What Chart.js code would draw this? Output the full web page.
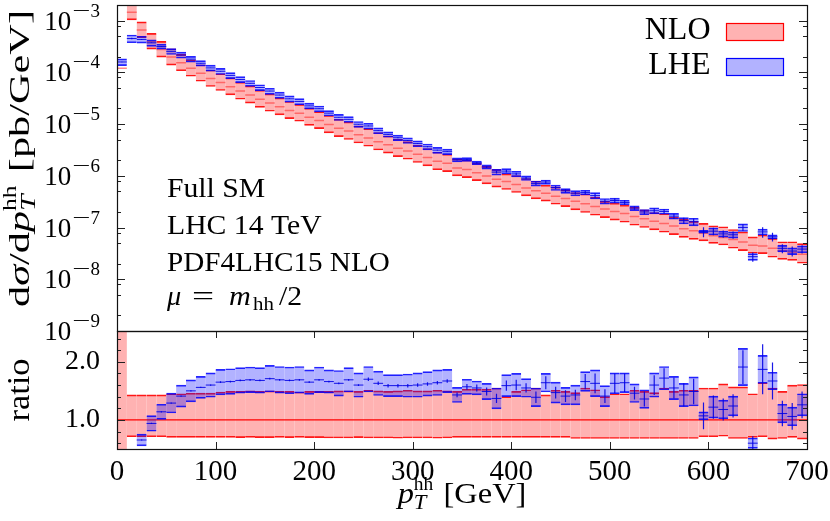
<!DOCTYPE html>
<html><head><meta charset="utf-8">
<script src="https://cdn.jsdelivr.net/npm/chart.js@4"></script>
<style>
html,body{margin:0;padding:0;background:#fff;}
#wrap{position:relative;width:830px;height:521px;background:#fff;}
canvas{position:absolute;left:0;top:0;}
.fl{position:absolute;left:-9999px;top:0;font-family:"Liberation Serif";}
</style></head><body>
<span class="fl">Full SM <i>italic μ</i></span>
<div id="wrap"><canvas id="top" width="830" height="521"></canvas><canvas id="ratio" width="830" height="521"></canvas></div>
<script>
// ---- data ----
const binWidth = 10; // GeV
const binLow = [0,10,20,30,40,50,60,70,80,90,
  100,110,120,130,140,150,160,170,180,190,
  200,210,220,230,240,250,260,270,280,290,
  300,310,320,330,340,350,360,370,380,390,
  400,410,420,430,440,450,460,470,480,490,
  500,510,520,530,540,550,560,570,580,590,
  600,610,620,630,640,650,660,670,680,690];
// NLO central value, pb/GeV
const nloCentral = [1.20e-4,1.45e-3,6.6e-4,3.95e-4,2.77e-4,1.97e-4,1.53e-4,1.20e-4,9.6e-5,7.6e-5,
  6.35e-5,5.25e-5,4.33e-5,3.63e-5,3.03e-5,2.54e-5,2.15e-5,1.83e-5,1.62e-5,1.36e-5,
  1.17e-5,9.8e-6,8.3e-6,7.3e-6,6.2e-6,5.4e-6,4.57e-6,3.97e-6,3.42e-6,3.03e-6,
  2.62e-6,2.25e-6,1.91e-6,1.75e-6,1.42e-6,1.32e-6,1.15e-6,9.95e-7,8.6e-7,7.75e-7,
  6.8e-7,5.83e-7,5.12e-7,4.61e-7,4.03e-7,3.63e-7,3.23e-7,2.87e-7,2.54e-7,2.29e-7,
  2.04e-7,1.86e-7,1.63e-7,1.47e-7,1.32e-7,1.19e-7,1.07e-7,9.5e-8,8.7e-8,7.75e-8,
  6.97e-8,6.38e-8,5.84e-8,5.26e-8,4.55e-8,4.4e-8,3.98e-8,3.57e-8,3.32e-8,3.04e-8];
// NLO band edges relative to NLO central
const nloUp = [3.0,1.43,1.43,1.43,1.43,1.45,1.45,1.46,1.46,1.46,
  1.48,1.49,1.49,1.50,1.49,1.50,1.49,1.49,1.48,1.49,
  1.49,1.49,1.50,1.50,1.49,1.51,1.50,1.49,1.50,1.51,
  1.50,1.50,1.51,1.50,1.49,1.53,1.53,1.53,1.55,1.40,
  1.49,1.52,1.55,1.43,1.51,1.49,1.47,1.55,1.52,1.40,
  1.45,1.45,1.51,1.49,1.47,1.55,1.49,1.51,1.51,1.55,
  1.55,1.62,1.57,1.57,1.45,1.64,1.55,1.49,1.60,1.61];
const nloDown = [0,0.71,0.71,0.71,0.71,0.70,0.70,0.70,0.70,0.70,
  0.70,0.70,0.695,0.70,0.695,0.695,0.70,0.695,0.70,0.695,
  0.695,0.69,0.69,0.69,0.695,0.69,0.69,0.69,0.685,0.69,
  0.69,0.69,0.685,0.69,0.70,0.70,0.70,0.70,0.70,0.70,
  0.70,0.70,0.70,0.70,0.70,0.70,0.68,0.68,0.68,0.68,
  0.68,0.68,0.68,0.68,0.68,0.68,0.68,0.68,0.68,0.71,
  0.71,0.72,0.68,0.68,0.70,0.71,0.67,0.68,0.70,0.67];
// LHE / NLO central, band half-width and statistical error (ratio units)
const lheRatio = [1.32,0.31,0.655,0.94,1.14,1.29,1.41,1.50,1.56,1.60,
  1.65,1.66,1.68,1.69,1.68,1.71,1.69,1.68,1.69,1.65,
  1.69,1.66,1.63,1.69,1.60,1.70,1.63,1.59,1.59,1.59,
  1.60,1.62,1.64,1.67,1.43,1.57,1.55,1.49,1.37,1.59,
  1.60,1.55,1.39,1.64,1.47,1.41,1.43,1.66,1.63,1.41,
  1.63,1.64,1.46,1.36,1.60,1.72,1.55,1.43,1.49,1.07,
  1.22,1.18,1.24,1.91,0.60,1.87,1.67,1.11,1.06,1.26];
const lheErr = [0.20,0.053,0.10,0.135,0.13,0.17,0.19,0.19,0.19,0.21,
  0.22,0.22,0.22,0.22,0.22,0.23,0.23,0.23,0.23,0.21,
  0.22,0.20,0.22,0.21,0.21,0.22,0.21,0.19,0.19,0.20,
  0.21,0.21,0.22,0.20,0.13,0.13,0.12,0.14,0.18,0.19,
  0.20,0.16,0.16,0.16,0.18,0.15,0.17,0.17,0.23,0.18,
  0.18,0.17,0.16,0.16,0.21,0.20,0.20,0.20,0.25,0.07,
  0.19,0.16,0.17,0.32,0.09,0.24,0.15,0.16,0.16,0.19];
const lheStat = [0.01,0.01,0.01,0.01,0.01,0.01,0.01,0.01,0.01,0.01,
  0.015,0.015,0.015,0.015,0.015,0.015,0.015,0.015,0.015,0.015,
  0.015,0.015,0.015,0.015,0.015,0.03,0.03,0.03,0.03,0.03,
  0.03,0.03,0.03,0.03,0.04,0.05,0.06,0.07,0.08,0.09,
  0.09,0.08,0.10,0.11,0.10,0.10,0.09,0.13,0.17,0.12,
  0.17,0.16,0.11,0.13,0.17,0.17,0.18,0.20,0.22,0.23,
  0.20,0.19,0.20,0.29,0.12,0.43,0.32,0.22,0.23,0.23];
// tick values / labels
const xTicks = [0,100,200,300,400,500,600,700];
const xTickLabels = ['0','100','200','300','400','500','600','700'];
const yDecades = [-9,-8,-7,-6,-5,-4,-3];
const yMinorMult = [2,5,8];
const ratioMajor = [1.0,2.0];
const ratioMajorLabels = ['1.0','2.0'];
const ratioMinor = [0.6,0.8,1.2,1.4,1.6,1.8,2.2,2.4];

// ---- helpers ----
const RED_FILL='rgba(255,0,0,0.30)', RED_LINE='rgba(255,0,0,0.9)';
const BLUE_FILL='rgba(0,0,255,0.30)', BLUE_LINE='rgba(0,0,255,0.85)';
const FONT='"Liberation Serif", serif';
function fontOf(s){return (s.it?'italic ':'normal ')+s.size+'px '+FONT;}
function richText(ctx,segs,x,y,align,opt){
  opt=opt||{};
  let maxEnd=0,prevStart=0;const items=[];
  for(const s of segs){
    ctx.font=fontOf(s);
    const w=ctx.measureText(s.t).width*(s.sx||1);
    let start=(s.ax!==undefined)?s.ax:((s.stack?prevStart:maxEnd)+(s.dx||0));
    items.push({s,start,w});prevStart=start;maxEnd=Math.max(maxEnd,start+w);
  }
  const sc=opt.fit?opt.fit/maxEnd:(opt.sx||1);
  const total=maxEnd*sc;
  const x0=align==='right'?x-total:align==='center'?x-total/2:x;
  ctx.save();ctx.translate(x0,y);ctx.scale(sc,1);
  ctx.fillStyle='#000';ctx.textBaseline='alphabetic';ctx.textAlign='left';
  for(const it of items){
    ctx.save();ctx.font=fontOf(it.s);ctx.translate(it.start,it.s.dy||0);ctx.scale(it.s.sx||1,1);
    ctx.fillText(it.s.t,0,0);ctx.restore();
  }
  ctx.restore();
}
function bars(lo,hi){return binLow.map((b,i)=>({x:b+binWidth/2,y:(lo[i]==null||hi[i]==null)?null:[lo[i],hi[i]]}));}
function segs(vals){const d=[];binLow.forEach((b,i)=>{if(vals[i]==null)return;d.push({x:b,y:vals[i]},{x:b+binWidth,y:vals[i]},{x:b+binWidth,y:null});});return d;}
function errs(lo,hi){const d=[];binLow.forEach((b,i)=>{if(lo[i]==null)return;const c=b+binWidth/2;d.push({x:c,y:lo[i]},{x:c,y:hi[i]},{x:c,y:null});});return d;}
const barStyle=(bg,bc,order)=>({type:'bar',backgroundColor:bg,borderColor:bc,borderWidth:{top:1,bottom:1,left:0,right:0},borderSkipped:false,barPercentage:1,categoryPercentage:1,grouped:false,order,clip:0});
const lineStyle=(c,w,order)=>({type:'line',borderColor:c,borderWidth:w,pointRadius:0,fill:false,spanGaps:false,tension:0,order,clip:0});

// ---- derived tables ----
const N=binLow.length;
const topNloLo=[],topNloHi=[],topLhe=[],topLheLo=[],topLheHi=[],topStatLo=[],topStatHi=[];
const rNloLo=[],rNloHi=[],rLhe=[],rLheLo=[],rLheHi=[],rStatLo=[],rStatHi=[];
for(let i=0;i<N;i++){
  const c=nloCentral[i];
  const valid=nloDown[i]>0; // first bin: NLO band undefined
  topNloLo.push(valid?c*nloDown[i]:null);topNloHi.push(valid?c*nloUp[i]:null);
  topLhe.push(c*lheRatio[i]);topLheLo.push(c*(lheRatio[i]-lheErr[i]));topLheHi.push(c*(lheRatio[i]+lheErr[i]));
  topStatLo.push(c*(lheRatio[i]-lheStat[i]));topStatHi.push(c*(lheRatio[i]+lheStat[i]));
  rNloLo.push(nloDown[i]);rNloHi.push(nloUp[i]);
  rLhe.push(valid?lheRatio[i]:null);
  rLheLo.push(valid?lheRatio[i]-lheErr[i]:null);rLheHi.push(valid?lheRatio[i]+lheErr[i]:null);
  rStatLo.push(valid?lheRatio[i]-lheStat[i]:null);rStatHi.push(valid?lheRatio[i]+lheStat[i]:null);
}

function drawFrame(ctx,a){
  ctx.save();ctx.strokeStyle='#111';ctx.lineWidth=1.2;
  ctx.strokeRect(a.left+0.5,a.top+0.5,a.right-a.left,a.bottom-a.top);ctx.restore();
}
function yTick(ctx,a,py,len){
  ctx.beginPath();ctx.moveTo(a.left,py);ctx.lineTo(a.left+len,py);
  ctx.moveTo(a.right,py);ctx.lineTo(a.right-len,py);ctx.stroke();
}

const topDeco={id:'topDeco',afterDraw(chart){
  const {ctx,chartArea:a,scales:{y}}=chart;
  ctx.save();ctx.strokeStyle='#222';ctx.lineWidth=1;
  for(const e of yDecades){
    const v=Math.pow(10,e);
    yTick(ctx,a,Math.round(y.getPixelForValue(v))+0.5,8);
    for(const m of yMinorMult){const mv=m*v;if(mv<y.max)yTick(ctx,a,Math.round(y.getPixelForValue(mv))+0.5,4);}
  }
  ctx.restore();
  drawFrame(ctx,a);
  for(const e of yDecades){
    const py=y.getPixelForValue(Math.pow(10,e));
    richText(ctx,[{t:'10',size:27},{t:'\u2212',size:19,dy:-13,sx:1.7,dx:1},{t:String(-e),size:19,dy:-13}],100,py+9,'right');
  }
  ctx.save();ctx.translate(29,158.5);ctx.rotate(-Math.PI/2);
  richText(ctx,[{t:'d',size:30},{t:'\u03c3',size:30,it:true},{t:'/d',size:30},{t:'p',size:30,it:true},
    {t:'T',size:21,it:true,dy:6},{t:'hh',size:18,dy:-13,stack:true},{t:' [pb/GeV]',size:30,dx:2}],0,0,'center',{fit:297});
  ctx.restore();
  richText(ctx,[{t:'NLO',size:32}],710.5,38.5,'right');
  richText(ctx,[{t:'LHE',size:32}],710.5,73.5,'right');
  ctx.save();ctx.lineWidth=1.2;
  ctx.fillStyle=RED_FILL;ctx.fillRect(726,23,57,18);ctx.strokeStyle='rgb(255,0,0)';ctx.strokeRect(726.5,23.5,57,17);
  ctx.fillStyle=BLUE_FILL;ctx.fillRect(726,58,57,18);ctx.strokeStyle='rgb(0,0,255)';ctx.strokeRect(726.5,58.5,57,17);
  ctx.restore();
  richText(ctx,[{t:'Full SM',size:27}],167,197,'left',{sx:1.1});
  richText(ctx,[{t:'LHC 14 TeV',size:27}],167,234,'left',{sx:1.1});
  richText(ctx,[{t:'PDF4LHC15 NLO',size:27}],167,271,'left',{sx:1.08});
  richText(ctx,[{t:'\u03bc',size:27,it:true,ax:0,sx:1.05},{t:'=',size:27,ax:25,sx:1.45},{t:'m',size:27,it:true,ax:62,sx:1.12},
    {t:'hh',size:19,ax:86,dy:5,sx:1.1},{t:'/2',size:27,ax:112,sx:1.1}],167,305,'left');
}};

const ratioDeco={id:'ratioDeco',afterDraw(chart){
  const {ctx,chartArea:a,scales:{x,y}}=chart;
  ctx.save();ctx.strokeStyle='#222';ctx.lineWidth=1;
  for(const v of ratioMajor)yTick(ctx,a,Math.round(y.getPixelForValue(v))+0.5,8);
  for(const v of ratioMinor)yTick(ctx,a,Math.round(y.getPixelForValue(v))+0.5,4);
  for(const v of xTicks){
    const px=Math.round(x.getPixelForValue(v))+0.5;
    ctx.beginPath();ctx.moveTo(px,a.top);ctx.lineTo(px,a.top+7);ctx.moveTo(px,a.bottom);ctx.lineTo(px,a.bottom-7);ctx.stroke();
  }
  ctx.restore();
  drawFrame(ctx,a);
  ratioMajor.forEach((v,i)=>richText(ctx,[{t:ratioMajorLabels[i],size:28}],100,y.getPixelForValue(v)+7.5,'right'));
  xTicks.forEach((v,i)=>richText(ctx,[{t:xTickLabels[i],size:29}],x.getPixelForValue(v),480,'center'));
  richText(ctx,[{t:'p',size:30,it:true},{t:'T',size:21,it:true,dy:6},{t:'hh',size:18,dy:-13,stack:true},{t:' [GeV]',size:30,dx:2}],462,503,'center',{sx:1.08});
  ctx.save();ctx.translate(29,390);ctx.rotate(-Math.PI/2);
  richText(ctx,[{t:'ratio',size:31}],0,0,'center',{fit:63});
  ctx.restore();
}};

const common=(pad,yScale)=>({
  responsive:false,animation:false,devicePixelRatio:1,
  layout:{padding:pad},
  plugins:{legend:{display:false},tooltip:{enabled:false}},
  scales:{x:{type:'linear',min:0,max:700,offset:false,display:false},y:yScale}
});

function build(){
  new Chart(document.getElementById('top'),{
    type:'bar',
    data:{datasets:[
      Object.assign({data:bars(topNloLo,topNloHi)},barStyle(RED_FILL,RED_LINE,10)),
      Object.assign({data:segs(nloCentral)},lineStyle('rgba(255,40,40,0.55)',1.5,9)),
      Object.assign({data:bars(topLheLo,topLheHi)},barStyle(BLUE_FILL,BLUE_LINE,8)),
      Object.assign({data:segs(topLhe)},lineStyle('rgba(0,0,230,0.9)',1,7)),
      Object.assign({data:errs(topStatLo,topStatHi)},lineStyle('rgba(0,0,230,0.9)',1.2,6))
    ]},
    options:common({left:117,top:5,right:23,bottom:190},{type:'logarithmic',min:1e-9,max:2e-3,display:false}),
    plugins:[topDeco]
  });
  new Chart(document.getElementById('ratio'),{
    type:'bar',
    data:{datasets:[
      Object.assign({data:bars(rNloLo,rNloHi)},barStyle(RED_FILL,RED_LINE,10)),
      Object.assign({data:[{x:0,y:1},{x:700,y:1}]},lineStyle('rgb(255,0,0)',1.2,9)),
      Object.assign({data:bars(rLheLo,rLheHi)},barStyle(BLUE_FILL,BLUE_LINE,8)),
      Object.assign({data:segs(rLhe)},lineStyle('rgba(0,0,230,0.9)',1,7)),
      Object.assign({data:errs(rStatLo,rStatHi)},lineStyle('rgba(0,0,230,0.9)',1.2,6))
    ]},
    options:common({left:117,top:331,right:23,bottom:72},{type:'linear',min:0.5,max:2.53,display:false}),
    plugins:[ratioDeco]
  });
}
Promise.all([
  document.fonts.load('25px "Liberation Serif"'),
  document.fonts.load('italic 25px "Liberation Serif"')
]).then(build, build);
</script>
</body></html>
